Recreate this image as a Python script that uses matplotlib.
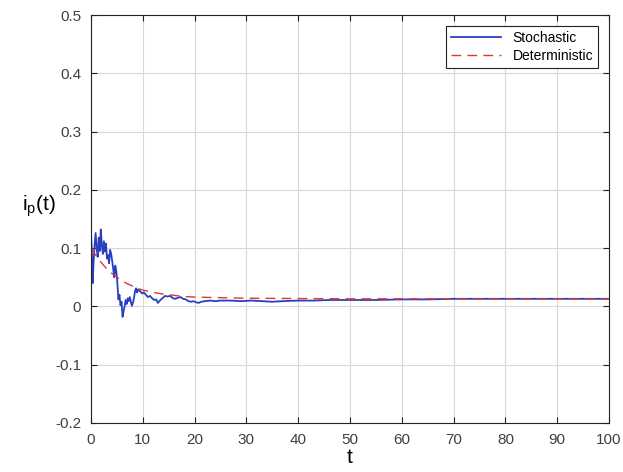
import numpy as np
import matplotlib
matplotlib.use("Agg")
import matplotlib.pyplot as plt

plt.rcParams["font.family"] = ["Liberation Sans", "DejaVu Sans"]
plt.rcParams["axes.unicode_minus"] = False

# stochastic path
t_sto = [0.0, 0.2, 0.35, 0.5, 0.7, 0.9, 1.1, 1.3, 1.5, 1.7, 1.9, 2.1, 2.3, 2.5, 2.7,
         2.9, 3.1, 3.3, 3.5, 3.7, 3.9, 4.1, 4.3, 4.5, 4.7, 4.9, 5.1, 5.3, 5.5, 5.7,
         5.9, 6.1, 6.3, 6.5, 6.7, 6.9, 7.1, 7.3, 7.5, 7.7, 7.9, 8.1, 8.3, 8.5, 8.7,
         8.9, 9.1, 9.3, 9.6, 9.9, 10.2, 10.6, 11.0, 11.4, 11.8, 12.2, 12.6, 12.9,
         13.3, 13.8, 14.3, 14.8, 15.3, 15.8, 16.3, 16.8, 17.3, 17.8, 18.3, 18.8,
         19.3, 19.8, 20.3, 20.8, 21.3, 22, 23, 24, 25, 27, 29, 31, 33, 35, 37, 40,
         43, 46, 50, 55, 60, 65, 70, 75, 80, 85, 90, 95, 100]
i_sto = [0.128, 0.085, 0.040, 0.075, 0.105, 0.126, 0.100, 0.085, 0.118, 0.095, 0.132,
         0.105, 0.090, 0.112, 0.094, 0.108, 0.082, 0.088, 0.074, 0.097, 0.090, 0.078,
         0.064, 0.050, 0.070, 0.060, 0.040, 0.012, 0.020, 0.002, 0.008, -0.018,
         -0.008, 0.000, 0.011, 0.004, 0.014, 0.009, 0.016, 0.008, 0.001, 0.006,
         0.014, 0.026, 0.031, 0.024, 0.029, 0.027, 0.025, 0.022, 0.024, 0.020,
         0.016, 0.018, 0.014, 0.011, 0.012, 0.006, 0.010, 0.014, 0.018, 0.017,
         0.018, 0.014, 0.013, 0.015, 0.016, 0.013, 0.012, 0.009, 0.008, 0.009,
         0.007, 0.006, 0.008, 0.009, 0.010, 0.009, 0.010, 0.010, 0.009, 0.010,
         0.009, 0.008, 0.009, 0.010, 0.010, 0.011, 0.011, 0.011, 0.012, 0.012,
         0.013, 0.013, 0.013, 0.013, 0.013, 0.013, 0.013]

# deterministic solution
t_det = [0, 1, 2, 3, 4, 5, 6, 7, 8, 9, 10, 12, 14, 16, 18, 20, 25, 30, 40, 50,
         60, 70, 80, 90, 100]
i_det = [0.100, 0.087, 0.075, 0.065, 0.057, 0.050, 0.044, 0.039, 0.035, 0.031,
         0.028, 0.024, 0.021, 0.019, 0.017, 0.016, 0.015, 0.014, 0.0135, 0.013,
         0.013, 0.013, 0.013, 0.013, 0.013]

xticks = list(range(0, 101, 10))
yticks = [-0.2, -0.1, 0, 0.1, 0.2, 0.3, 0.4, 0.5]
ylabels = ["-0.2", "-0.1", "0", "0.1", "0.2", "0.3", "0.4", "0.5"]

fig = plt.figure(figsize=(6.23, 4.72), dpi=100)
ax = fig.add_axes([0.146, 0.104, 0.8315, 0.864])

ax.plot(t_sto, i_sto, color="#2a3fbf", lw=1.3, label="Stochastic")
ax.plot(t_det, i_det, color="#d83a3a", lw=1.0, ls=(0, (7, 4.5)), label="Deterministic")

ax.set_xlim(0, 100)
ax.set_ylim(-0.2, 0.5)
ax.set_xticks(xticks)
ax.set_xticklabels([str(x) for x in xticks])
ax.set_yticks(yticks)
ax.set_yticklabels(ylabels)
ax.tick_params(direction="in", labelsize=11, colors="#222222", labelcolor="#404040",
               length=4, top=True, right=True, pad=7)
ax.grid(True, color="#d8d8d8", lw=0.8)
for s in ax.spines.values():
    s.set_color("#222222")

ax.set_xlabel("t", fontsize=15, labelpad=1)
ax.set_ylabel("$\\mathregular{i_p(t)}$", fontsize=15, rotation=0, labelpad=12)

leg = ax.legend(loc="upper right", fontsize=10, fancybox=False, framealpha=1,
                edgecolor="#222222", borderaxespad=0.8, handlelength=3.6,
                borderpad=0.35, labelspacing=0.3)
leg.get_frame().set_linewidth(0.8)

fig.savefig("out.png", dpi=100)
